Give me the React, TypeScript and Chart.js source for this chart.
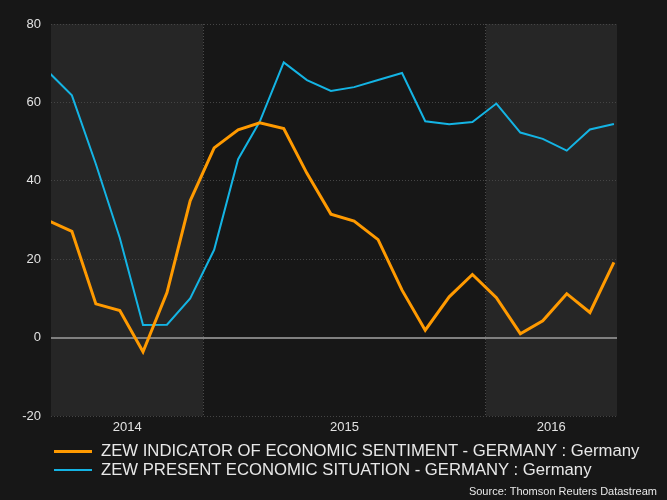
import React, { useEffect, useRef } from 'react';
import { Chart, registerables } from 'chart.js';

Chart.register(...registerables);

// Monthly observation dates (mid-month)
const months = [
  '2014-05', '2014-06', '2014-07', '2014-08', '2014-09', '2014-10', '2014-11', '2014-12',
  '2015-01', '2015-02', '2015-03', '2015-04', '2015-05', '2015-06', '2015-07', '2015-08',
  '2015-09', '2015-10', '2015-11', '2015-12',
  '2016-01', '2016-02', '2016-03', '2016-04', '2016-05', '2016-06',
];

const sentiment = [
  33.1, 29.8, 27.1, 8.6, 6.9, -3.6, 11.5, 34.9,
  48.4, 53.0, 54.8, 53.3, 41.9, 31.5, 29.7, 25.0, 12.1, 1.9, 10.4, 16.1,
  10.2, 1.0, 4.3, 11.2, 6.4, 19.2,
];

const situation = [
  62.1, 67.7, 61.8, 44.3, 25.4, 3.2, 3.3, 10.0,
  22.4, 45.5, 55.1, 70.2, 65.7, 62.9, 63.9, 65.7, 67.5, 55.2, 54.4, 55.0,
  59.7, 52.3, 50.7, 47.7, 53.1, 54.5,
];

const years = ['2014', '2015', '2016'];
const shadedYears = ['2014', '2016'];
const axisStart = '2014-06-18';
const axisEnd = '2016-06-19';
const yTicks = [-20, 0, 20, 40, 60, 80];

const seriesNames = [
  'ZEW INDICATOR OF ECONOMIC SENTIMENT - GERMANY : Germany',
  'ZEW PRESENT ECONOMIC SITUATION - GERMANY : Germany',
];
const sourceText = 'Source: Thomson Reuters Datastream';

const ORANGE = '#ff9a00';
const CYAN = '#14b4e4';
const BG = '#171717';
const BAND = '#262626';
const FONT = "'Liberation Sans', Arial, sans-serif";

const DAY = 86400000;
const origin = Date.UTC(2014, 0, 1);
function dayOf(dateStr: string): number {
  const [y, m, d] = dateStr.split('-').map(Number);
  return (Date.UTC(y, (m || 1) - 1, d || 1) - origin) / DAY;
}
function monthMid(ym: string): number {
  return dayOf(ym + '-15');
}

export default function App() {
  const canvasRef = useRef<HTMLCanvasElement | null>(null);

  useEffect(() => {
    if (!canvasRef.current) return;
    const xMin = dayOf(axisStart);
    const xMax = dayOf(axisEnd);
    const yearStart = years.map((y) => dayOf(y + '-01-01'));
    const boundaries = yearStart.filter((v) => v > xMin && v < xMax);
    const centers = years.map((y, i) => {
      const s = Math.max(yearStart[i], xMin);
      const e = Math.min(i + 1 < years.length ? yearStart[i + 1] : Infinity, xMax);
      return (s + e) / 2;
    });

    const bandPlugin = {
      id: 'bands',
      beforeDraw(chart: any) {
        const { ctx, chartArea } = chart;
        const xs = chart.scales.x;
        ctx.save();
        ctx.fillStyle = BG;
        ctx.fillRect(chartArea.left, chartArea.top, chartArea.right - chartArea.left, chartArea.bottom - chartArea.top);
        shadedYears.forEach((y) => {
          const i = years.indexOf(y);
          const s = Math.max(yearStart[i], xMin);
          const e = Math.min(i + 1 < years.length ? yearStart[i + 1] : xMax, xMax);
          const x0 = Math.round(xs.getPixelForValue(s));
          const x1 = Math.round(xs.getPixelForValue(e));
          ctx.fillStyle = BAND;
          ctx.fillRect(x0, chartArea.top, x1 - x0, chartArea.bottom - chartArea.top);
        });
        ctx.restore();
      },
    };

    const chart = new Chart(canvasRef.current, {
      type: 'line',
      data: {
        datasets: [
          {
            label: seriesNames[0],
            data: months.map((m, i) => ({ x: monthMid(m), y: sentiment[i] })),
            borderColor: ORANGE,
            borderWidth: 3,
            pointRadius: 0,
            tension: 0,
            fill: false,
          },
          {
            label: seriesNames[1],
            data: months.map((m, i) => ({ x: monthMid(m), y: situation[i] })),
            borderColor: CYAN,
            borderWidth: 2,
            pointRadius: 0,
            tension: 0,
            fill: false,
          },
        ],
      },
      options: {
        animation: false,
        responsive: false,
        events: [],
        layout: { padding: { left: 0, top: 24, right: 50, bottom: 0 } },
        plugins: {
          legend: { display: false },
          tooltip: { enabled: false },
        },
        scales: {
          x: {
            type: 'linear',
            min: xMin,
            max: xMax,
            afterBuildTicks(scale: any) {
              const vals = [...boundaries, ...centers].sort((a, b) => a - b);
              scale.ticks = vals.map((v) => ({ value: v }));
            },
            afterFit(scale: any) {
              scale.height = 84;
            },
            ticks: {
              autoSkip: false,
              maxRotation: 0,
              minRotation: 0,
              padding: 4,
              color: '#e2e2e2',
              font: { family: FONT, size: 13 },
              callback(value: any) {
                const idx = centers.findIndex((c) => Math.abs(c - value) < 1e-6);
                return idx >= 0 ? years[idx] : '';
              },
            },
            grid: {
              drawTicks: false,
              color(ctx: any) {
                const v = ctx.tick ? ctx.tick.value : NaN;
                return boundaries.some((b) => Math.abs(b - v) < 1e-6) ? '#4a4a4a' : 'rgba(0,0,0,0)';
              },
              lineWidth: 1,
            },
            border: { display: false, dash: [1, 2] },
          },
          y: {
            type: 'linear',
            min: -20,
            max: 80,
            afterBuildTicks(scale: any) {
              scale.ticks = yTicks.map((v) => ({ value: v }));
            },
            afterFit(scale: any) {
              scale.width = 51;
            },
            ticks: {
              padding: 10,
              color: '#e2e2e2',
              font: { family: FONT, size: 13 },
            },
            grid: {
              drawTicks: false,
              color(ctx: any) {
                return ctx.tick && ctx.tick.value === 0 ? '#808080' : '#454545';
              },
              lineWidth(ctx: any) {
                return ctx.tick && ctx.tick.value === 0 ? 2 : 1;
              },
            },
            border: {
              display: false,
              dash(ctx: any) {
                return ctx.tick && ctx.tick.value === 0 ? [] : [1, 2];
              },
            } as any,
          },
        },
      } as any,
      plugins: [bandPlugin],
    });
    return () => chart.destroy();
  }, []);

  const legendText: React.CSSProperties = {
    position: 'absolute',
    left: 101,
    fontFamily: FONT,
    fontSize: 16.7,
    color: '#e8e8e8',
    lineHeight: '18px',
    whiteSpace: 'nowrap',
  };

  return (
    <div
      style={{
        position: 'fixed',
        left: 0,
        top: 0,
        width: 667,
        height: 500,
        background: BG,
        overflow: 'hidden',
      }}
    >
      <canvas ref={canvasRef} width={667} height={500} style={{ position: 'absolute', left: 0, top: 0 }} />
      <div style={{ position: 'absolute', left: 54, top: 450, width: 38, height: 3, background: ORANGE }} />
      <div style={{ ...legendText, top: 442 }}>{seriesNames[0]}</div>
      <div style={{ position: 'absolute', left: 54, top: 469, width: 38, height: 2, background: CYAN }} />
      <div style={{ ...legendText, top: 461 }}>{seriesNames[1]}</div>
      <div
        style={{
          position: 'absolute',
          right: 10,
          top: 484,
          fontFamily: FONT,
          fontSize: 11,
          color: '#e8e8e8',
          whiteSpace: 'nowrap',
          lineHeight: '14px',
        }}
      >
        {sourceText}
      </div>
    </div>
  );
}
